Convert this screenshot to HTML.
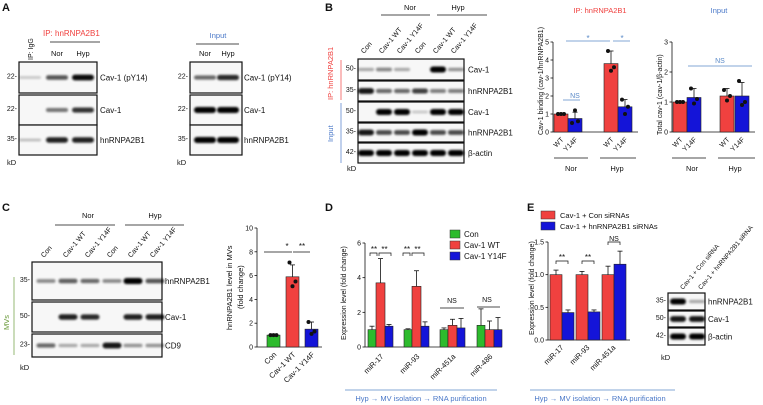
<!DOCTYPE html>
<html><head><meta charset="utf-8"><style>
html,body{margin:0;padding:0;background:#fff;width:763px;height:405px;overflow:hidden}
svg{display:block;font-family:"Liberation Sans",Arial,sans-serif}
</style></head><body>
<svg id="fig" width="763" height="405" viewBox="0 0 763 405" xmlns="http://www.w3.org/2000/svg">
<defs><filter id="bl" x="-50%" y="-100%" width="200%" height="300%"><feGaussianBlur stdDeviation="1.1"/></filter></defs>
</svg>
<script>
// ---- chart data ----
const bCats = ["WT","Y14F","WT","Y14F"];
const bIpVals = [1.0,0.75,3.8,1.4];
const bIpErr = [0.03,0.35,0.7,0.4];
const bIpDots = [[1,1,1],[0.5,1.2,0.6],[4.5,3.4,3.6],[1.8,1.0,1.4]];
const bInVals = [1.0,1.15,1.2,1.2];
const bInErr = [0.02,0.3,0.25,0.45];
const bInDots = [[1,1,1],[1.45,0.95,1.1],[1.4,1.05,1.2],[1.7,0.9,1.0]];
const cCats = ["Con","Cav-1 WT","Cav-1 Y14F"];
const cVals = [1.0,5.9,1.5];
const cErr = [0.1,1.0,0.6];
const cDots = [[1,1,1],[7.1,5.1,5.5],[2.1,1.1,1.3]];
const dCats = ["miR-17","miR-93","miR-451a","miR-486"];
const dCon = [1.0,1.0,1.0,1.25];
const dWT = [3.7,3.5,1.25,1.0];
const dY = [1.2,1.2,1.1,1.0];
const dConErr = [0.2,0.05,0.1,0.95];
const dWTErr = [1.4,0.9,0.35,0.5];
const dYErr = [0.1,0.25,0.55,0.7];
const eCats = ["miR-17","miR-93","miR-451a"];
const eCon = [1.0,1.0,1.0];
const eSi = [0.42,0.43,1.16];
const eConErr = [0.07,0.05,0.13];
const eSiErr = [0.04,0.03,0.2];

const NS="http://www.w3.org/2000/svg";
const svg=document.getElementById('fig');
const RED="#f0413f", BLUE="#1414d8", GREEN="#2dbb2d";
function el(tag,attrs,parent){const e=document.createElementNS(NS,tag);for(const k in attrs)e.setAttribute(k,attrs[k]);(parent||svg).appendChild(e);return e;}
function txt(x,y,s,size,opt){opt=opt||{};const t=el('text',{x:x,y:y,'font-size':size,fill:opt.fill||'#111','text-anchor':opt.anchor||'start','font-weight':opt.bold?'bold':'normal'});if(opt.rot!==undefined)t.setAttribute('transform','rotate('+opt.rot+' '+x+' '+y+')');t.textContent=s;return t;}
function line(x1,y1,x2,y2,c,w){return el('line',{x1:x1,y1:y1,x2:x2,y2:y2,stroke:c||'#111','stroke-width':w||0.8});}

[["A",2,11],["B",325,11],["C",2,211],["D",325,211],["E",527,211]].forEach(p=>{const t=txt(p[1],p[2],p[0],11,{bold:true});

});

function blot(name,x,rows,lanes,bw,labels,ticks,lx){
  const g=el('g',{});
  
  
  rows.forEach((r,i)=>{
    const [y0,y1,ints]=r;
    el('rect',{x:x[0],y:y0,width:x[1]-x[0],height:y1-y0,fill:'#f7f7f7',stroke:'#111','stroke-width':1.2},g);
    ints.forEach((v,j)=>{ if(v<=0)return;
      const h=Math.min((y1-y0)*0.4,2.5+v*3.5);
      el('rect',{x:lanes[j]-bw/2,y:(y0+y1)/2-h/2,width:bw,height:h,rx:h/2,fill:'#000',opacity:Math.min(1,0.15+v*0.85),filter:'url(#bl)'},g);});
    if(labels[i]) txt(lx,(y0+y1)/2+3,labels[i],8,{});
    if(ticks[i]) txt(x[0]-2,(y0+y1)/2+1,ticks[i]+'-',7,{anchor:'end'});
  });
  return g;
}
// Panel A
txt(33,60,"IP: IgG",7,{rot:-90});
txt(43,36,"IP: hnRNPA2B1",8,{fill:RED});line(50,42,100,42);
txt(57,56,"Nor",7.5,{anchor:'middle'});txt(83,56,"Hyp",7.5,{anchor:'middle'});
blot('blot-a-ip',[19,97],[[62,93,[0.05,0.6,0.95]],[95,125,[0,0.45,0.75]],[125,155,[0.1,0.85,0.85]]],[30,57,83],22,["Cav-1 (pY14)","Cav-1","hnRNPA2B1"],["22","22","35"],100);
txt(7,165,"kD",7.5);
txt(218,38,"Input",7.5,{fill:"#4a78c8",anchor:'middle'});line(196,44,239,44);
txt(205,56,"Nor",7.5,{anchor:'middle'});txt(228,56,"Hyp",7.5,{anchor:'middle'});
blot('blot-a-input',[190,242],[[62,93,[0.5,0.8]],[95,125,[1,1]],[125,155,[1,1]]],[205,228],22,["Cav-1 (pY14)","Cav-1","hnRNPA2B1"],["22","22","35"],244);
txt(177,165,"kD",7.5);

// Panel B blot
const bLanes=[366,384,402,420,438,456];
["Con","Cav-1 WT","Cav-1 Y14F","Con","Cav-1 WT","Cav-1 Y14F"].forEach((s,i)=>txt(bLanes[i]-2,54,s,7,{rot:-50}));
txt(410,10,"Nor",7.5,{anchor:'middle'});line(381,15,430,15);
txt(458,10,"Hyp",7.5,{anchor:'middle'});line(437,15,487,15);
blot('blot-b',[358,464],[[59,80,[0.2,0.35,0.2,0,1,0.3]],[81,101,[0.9,0.5,0.5,0.7,0.4,0.4]],[102,122,[0,1,1,0.05,1,1]],[123,142,[0.9,0.65,0.65,1,0.65,0.65]],[143,163,[1,1,1,1,1,1]]],bLanes,16,["Cav-1","hnRNPA2B1","Cav-1","hnRNPA2B1","β-actin"],["50","35","50","35","42"],468);
txt(333,100,"IP: hnRNPA2B1",7.5,{fill:RED,rot:-90});line(341,60,341,100,RED,0.7);
txt(333,142,"Input",7.5,{fill:"#4a78c8",rot:-90});line(341,103,341,163,"#4a78c8",0.7);
txt(347,171,"kD",7.5);

function axisY(ax,y0,y1,max,ticks,labels,name){
  const s=v=>y0-(v/max)*(y0-y1);
  const g=el('g',{});
  line(ax,y0,ax,y1);
  ticks.forEach((t,i)=>{line(ax-2.5,s(t),ax,s(t));txt(ax-4,s(t)+2.5,labels?labels[i]:String(t),7,{anchor:'end'});});
  return s;
}
function bar(x,w,v,err,s,fill,name,dots){
  const r=el('rect',{x:x,y:s(v),width:w,height:s(0)-s(v),fill:fill,stroke:'#222','stroke-width':0.6});
  
  
  line(x+w/2,s(v),x+w/2,s(v+err));line(x+w/2-2.5,s(v+err),x+w/2+2.5,s(v+err));
  if(dots) dots.forEach((d,k)=>el('circle',{cx:x+w/2+(k-1)*3,cy:s(d),r:2,fill:'#111'}));
}
// B chart IP
txt(600,13,"IP: hnRNPA2B1",7.5,{fill:RED,anchor:'middle'});
let s1=axisY(553,132,42,5,[0,1,2,3,4,5],null,"chart-b-ip-axis");
line(553,132,638,132);
const bX1=[554,568,604,618];
bCats.forEach((c,i)=>{bar(bX1[i],14,bIpVals[i],bIpErr[i],s1,i%2?BLUE:RED,'bar-b-ip-'+i,bIpDots[i]);txt(bX1[i]+10,140,c,7,{anchor:'end',rot:-45});});
txt(543,135,"Cav-1 binding (cav-1/hnRNPA2B1)",7,{rot:-90});
line(554,158,588,158);line(600,158,636,158);txt(571,171,"Nor",7.5,{anchor:'middle'});txt(617,171,"Hyp",7.5,{anchor:'middle'});
line(566,41,610,41,"#5a8ac8");txt(588,41,"*",8,{anchor:'middle',fill:"#5a8ac8"});
line(613,41,630,41,"#5a8ac8");txt(622,41,"*",8,{anchor:'middle',fill:"#5a8ac8"});
line(563,100,580,100,"#5a8ac8");txt(575,98,"NS",7,{anchor:'middle',fill:"#5a8ac8"});
// B chart input
txt(719,13,"Input",7.5,{fill:"#4a78c8",anchor:'middle'});
let s2=axisY(672,132,42,3,[0,1,2,3],null,"chart-b-input-axis");
line(672,132,755,132);
const bX2=[673,687,720,735];
bCats.forEach((c,i)=>{bar(bX2[i],14,bInVals[i],bInErr[i],s2,i%2?BLUE:RED,'bar-b-input-'+i,bInDots[i]);txt(bX2[i]+10,140,c,7,{anchor:'end',rot:-45});});
txt(662,135,"Total cav-1 (cav-1/β-actin)",7,{rot:-90});
line(672,158,706,158);line(718,158,755,158);txt(692,171,"Nor",7.5,{anchor:'middle'});txt(735,171,"Hyp",7.5,{anchor:'middle'});
line(688,66,752,66,"#5a8ac8");txt(720,63,"NS",7,{anchor:'middle',fill:"#5a8ac8"});

// Panel C blot
const cLanes=[46,68,90,112,133,155];
["Con","Cav-1 WT","Cav-1 Y14F","Con","Cav-1 WT","Cav-1 Y14F"].forEach((s,i)=>txt(cLanes[i]-2,258,s,7,{rot:-50}));
txt(88,218,"Nor",7.5,{anchor:'middle'});line(55,225,115,225);
txt(155,218,"Hyp",7.5,{anchor:'middle'});line(125,225,184,225);
blot('blot-c',[32,162],[[262,300,[0.35,0.55,0.5,0.35,1,0.6]],[302,332,[0,0.85,0.8,0,0.85,0.85]],[334,357,[0.5,0.2,0.2,0.9,0.3,0.3]]],cLanes,19,["hnRNPA2B1","Cav-1","CD9"],["35","50","23"],165);
txt(20,370,"kD",7.5);
txt(9,330,"MVs",7.5,{fill:"#6a9a3a",rot:-90});line(14,277,14,355,"#6a9a3a",0.7);
// C chart
let s3=axisY(257,347,228,10,[0,2,4,6,8,10],null,"chart-c-axis");
line(257,347,322,347);
const cX=[267,286,305];const cCol=[GREEN,RED,BLUE];
cCats.forEach((c,i)=>{bar(cX[i],13,cVals[i],cErr[i],s3,cCol[i],'bar-c-'+i,cDots[i]);txt(cX[i]+10,355,c,7.5,{anchor:'end',rot:-45});});
txt(232,330,"hnRNPA2B1 level in MVs",7.5,{rot:-90});txt(243,309,"(fold change)",7.5,{rot:-90});
line(264,252,292,252);txt(287,249,"*",8,{anchor:'middle'});
line(293,252,310,252);txt(302,249,"**",8,{anchor:'middle'});

// Panel D
let s4=axisY(365,347,243,6,[0,2,4,6],null,"chart-d-axis");
line(365,347,502,347);
const dX=[368,404,440,477];
dCats.forEach((c,i)=>{
 bar(dX[i],8,dCon[i],dConErr[i],s4,GREEN,'bar-d-con-'+i);
 bar(dX[i]+8,9,dWT[i],dWTErr[i],s4,RED,'bar-d-wt-'+i);
 bar(dX[i]+17,8,dY[i],dYErr[i],s4,BLUE,'bar-d-y14f-'+i);
 txt(dX[i]+16,357,c,7.5,{anchor:'end',rot:-45});
});
txt(346,340,"Expression level (fold change)",7,{rot:-90});
[[370,378,391],[403,411,424]].forEach(a=>{
 const y=253;
 el('path',{d:`M${a[0]},${y+3}V${y}H${a[1]-1}V${y+3}M${a[1]+1},${y+3}V${y}H${a[2]}V${y+3}`,fill:'none',stroke:'#111','stroke-width':0.7});
 txt((a[0]+a[1])/2,y-1,"**",8,{anchor:'middle'});txt((a[1]+a[2])/2,y-1,"**",8,{anchor:'middle'});
});
line(440,308,464,308);txt(452,303,"NS",7,{anchor:'middle'});
line(477,307,500,307);txt(487,302,"NS",7,{anchor:'middle'});
[["Con",GREEN,237],["Cav-1 WT",RED,248],["Cav-1 Y14F",BLUE,259]].forEach((l,i)=>{
 const r=el('rect',{x:450,y:l[2]-7,width:10,height:8,fill:l[1],stroke:'#333','stroke-width':0.5});
 
 txt(464,l[2],l[0],8);});
line(345,390,497,390,"#5a8ac8");txt(421,401,"Hyp → MV isolation → RNA purification",7.5,{fill:"#4a78c8",anchor:'middle'});

// Panel E
[["Cav-1 + Con siRNAs",RED,218],["Cav-1 + hnRNPA2B1 siRNAs",BLUE,229]].forEach((l,i)=>{
 const r=el('rect',{x:541,y:l[2]-7,width:14,height:8,fill:l[1],stroke:'#333','stroke-width':0.5});
 
 txt(560,l[2],l[0],7.5);});
let s5=axisY(548,340,242,1.5,[0,0.5,1,1.5],["0.0","0.5","1.0","1.5"],"chart-e-axis");
line(548,340,630,340);
const eX=[550,576,602];
eCats.forEach((c,i)=>{
 bar(eX[i],12,eCon[i],eConErr[i],s5,RED,'bar-e-con-'+i);
 bar(eX[i]+12,12,eSi[i],eSiErr[i],s5,BLUE,'bar-e-si-'+i);
 txt(eX[i]+14,348,c,7.5,{anchor:'end',rot:-45});
});
txt(534,335,"Expression level (fold change)",7,{rot:-90});
[[556,568],[582,594],[608,620]].forEach((a,i)=>{
 el('path',{d:`M${a[0]},${i==2?245:264}V${i==2?242:261}H${a[1]}V${i==2?245:264}`,fill:'none',stroke:'#111','stroke-width':0.7});
 txt((a[0]+a[1])/2,i==2?241:260,i==2?"NS":"**",i==2?7:8,{anchor:'middle'});
});
line(530,390,675,390,"#5a8ac8");txt(600,401,"Hyp → MV isolation → RNA purification",7.5,{fill:"#4a78c8",anchor:'middle'});
txt(683,290,"Cav-1 + Con siRNA",6.5,{rot:-50});
txt(701,290,"Cav-1 + hnRNPA2B1 siRNA",6.5,{rot:-50});
blot('blot-e',[668,705],[[293,310,[1,0.2]],[311,327,[0.9,0.9]],[328,345,[1,1]]],[678,697],16,["hnRNPA2B1","Cav-1","β-actin"],["35","50","42"],708);
txt(661,360,"kD",7.5);
</script>
</body></html>
